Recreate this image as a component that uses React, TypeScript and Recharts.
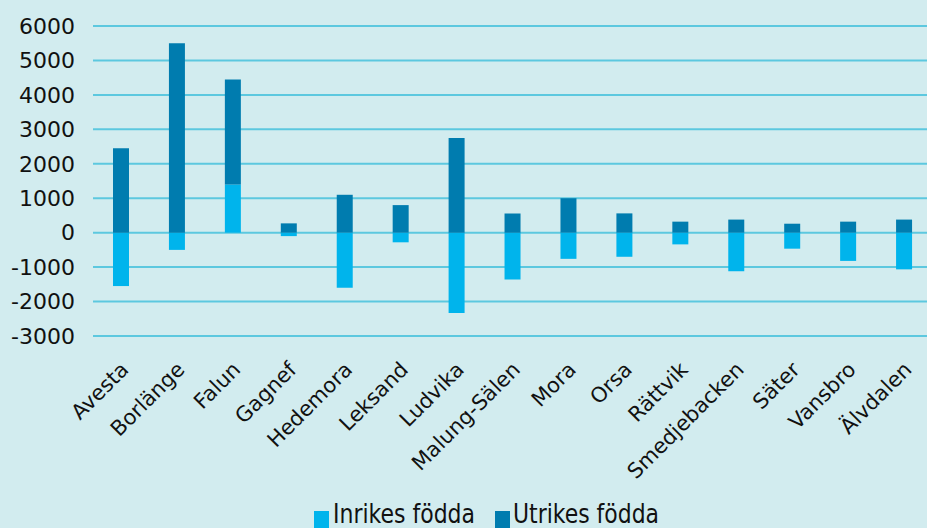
import React from 'react';
import { BarChart, Bar, XAxis, YAxis, CartesianGrid, Legend } from 'recharts';

const kommuner = [
  'Avesta', 'Borlänge', 'Falun', 'Gagnef', 'Hedemora', 'Leksand', 'Ludvika',
  'Malung-Sälen', 'Mora', 'Orsa', 'Rättvik', 'Smedjebacken', 'Säter', 'Vansbro', 'Älvdalen'
];
const inrikes = [-1550, -500, 1400, -100, -1600, -280, -2330, -1360, -760, -700, -340, -1120, -465, -820, -1065];
const utrikes = [2450, 5500, 3050, 270, 1100, 800, 2750, 560, 1000, 560, 320, 380, 260, 320, 380];
const yTicks = [-3000, -2000, -1000, 0, 1000, 2000, 3000, 4000, 5000, 6000];

const data = kommuner.map((name, i) => ({ name, inrikes: inrikes[i], utrikes: utrikes[i] }));

const BG = '#d2ecef';
const LIGHT = '#00b4ec';
const DARK = '#007caf';
const GRID = '#5cc8df';
const FONT = '"DejaVu Sans", sans-serif';

const XTick = (props: any) => {
  const { x, y, payload } = props;
  return (
    <g transform={`translate(${x - 1},${y + 17}) rotate(-45)`}>
      <text x={0} y={0} dy={14} textAnchor="end" fill="#111" fontSize={21} fontFamily={FONT}>
        {payload.value}
      </text>
    </g>
  );
};

const LegendBox = () => (
  <svg width={927} height={30}>
    <rect x={314} y={13} width={15} height={17} fill={LIGHT} />
    <text x={333} y={25} fontSize={26} fontFamily={FONT} fill="#111" textLength={142} lengthAdjust="spacingAndGlyphs">
      Inrikes födda
    </text>
    <rect x={495} y={13} width={15} height={17} fill={DARK} />
    <text x={513} y={25} fontSize={26} fontFamily={FONT} fill="#111" textLength={146} lengthAdjust="spacingAndGlyphs">
      Utrikes födda
    </text>
  </svg>
);

export default function App() {
  return (
    <div style={{ position: 'fixed', left: 0, top: 0, width: 927, height: 528, overflow: 'hidden', background: BG }}>
      <BarChart
        width={932}
        height={528}
        data={data}
        stackOffset="sign"
        margin={{ top: 26, right: 0, left: 0, bottom: 0 }}
      >
        <CartesianGrid vertical={false} stroke={GRID} strokeWidth={2} />
        <XAxis
          dataKey="name"
          interval={0}
          height={192}
          axisLine={false}
          tickLine={false}
          tick={<XTick />}
        />
        <YAxis
          width={93}
          domain={[-3000, 6000]}
          ticks={yTicks}
          axisLine={false}
          tickLine={false}
          tickMargin={12}
          tick={{ fill: '#111', fontSize: 22, fontFamily: FONT }}
        />
        <Legend
          verticalAlign="middle"
          align="center"
          layout="horizontal"
          wrapperStyle={{ top: 498, left: 0, width: 927 }}
          content={<LegendBox />}
        />
        <Bar dataKey="inrikes" name="Inrikes födda" stackId="a" fill={LIGHT} barSize={16} isAnimationActive={false} />
        <Bar dataKey="utrikes" name="Utrikes födda" stackId="a" fill={DARK} barSize={16} isAnimationActive={false} />
      </BarChart>
    </div>
  );
}
